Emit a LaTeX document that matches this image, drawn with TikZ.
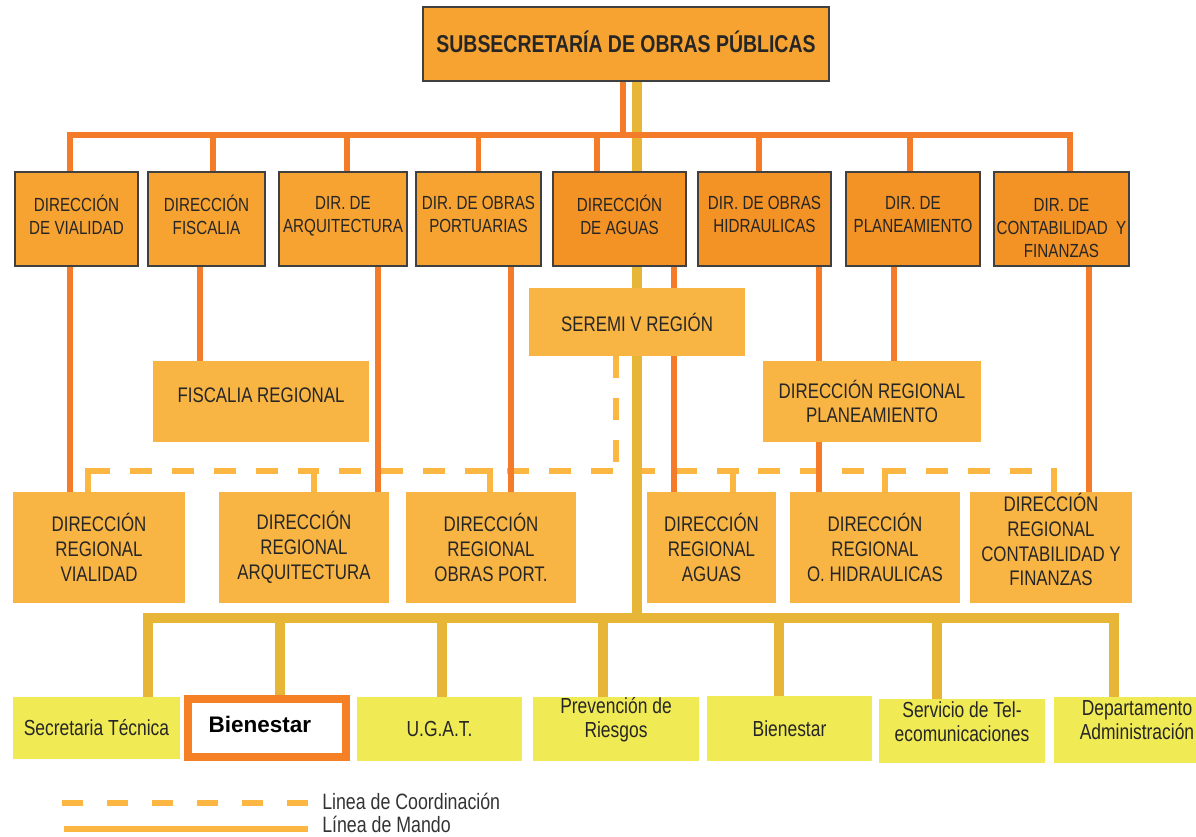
\documentclass[tikz,border=0pt]{standalone}
\usepackage{fontspec}
\setmainfont{Liberation Sans}[FakeStretch=0.8]
\newfontfamily\widesans{Liberation Sans}
\usepackage{tikz}
\usetikzlibrary{positioning,calc}

\definecolor{dirorange}{RGB}{247,163,50}
\definecolor{dirdark}{RGB}{243,146,37}
\definecolor{regorange}{RGB}{249,181,68}
\definecolor{unityellow}{RGB}{240,234,85}
\definecolor{mandoorange}{RGB}{244,123,42}
\definecolor{mandoyellow}{RGB}{232,182,55}
\definecolor{coordorange}{RGB}{251,183,65}
\definecolor{frameorange}{RGB}{245,128,37}

\newcommand{\px}{0.025cm}
\pgfdeclarelayer{bg}
\pgfsetlayers{bg,main}

\tikzset{
    size/.style 2 args={minimum width=#1*\px, minimum height=#2*\px},
    dirbox/.style={draw=black!75, line width=0.8pt, fill=dirorange, inner sep=0pt, align=center,
        text=black!85, text depth=6pt, font=\fontsize{13.5}{16.3}\selectfont},
    regbox/.style={fill=regorange, inner sep=0pt, align=center, text=black!85,
        font=\fontsize{15}{17.7}\selectfont},
    unitbox/.style={fill=unityellow, inner sep=0pt, align=center, text=black!85,
        font=\fontsize{15.5}{17}\selectfont},
    bienbox/.style={draw=frameorange, line width=5.7pt, fill=white, inner sep=0pt, text=black,
        font=\widesans\bfseries\fontsize{16}{19}\selectfont},
    orline/.style={draw=mandoorange, line width=3.9pt, line cap=rect},
    yline/.style={draw=mandoyellow, line width=6.8pt, line cap=rect},
    coline/.style={draw=coordorange, line width=4.6pt, dash pattern=on 15.6pt off 14.2pt},
    legtext/.style={inner sep=0pt, anchor=west, text=black!80, font=\fontsize{15.8}{18}\selectfont}
}

\begin{document}
\begin{tikzpicture}[x=0.025cm, y=-0.025cm]
    \useasboundingbox (0,0) rectangle (1196,836);
    \clip (0,0) rectangle (1196,836);

    \node[dirbox, size={406}{74}, text depth=3pt, font=\bfseries\fontsize{17.3}{20}\selectfont] (subse) at (626,44) {SUBSECRETARÍA DE OBRAS PÚBLICAS};

    \node[dirbox, size={123}{94}] (dvial) at (76.5,219) {DIRECCIÓN\\DE VIALIDAD};
    \node[dirbox, size={117}{94}] (dfisc) at (206.5,219) {DIRECCIÓN\\FISCALIA};
    \node[dirbox, size={128}{94}] (darq) at (343,219) {DIR. DE\\ARQUITECTURA};
    \node[dirbox, size={125}{94}] (dport) at (478.5,219) {DIR. DE OBRAS\\PORTUARIAS};
    \node[dirbox, fill=dirdark, size={133}{94}] (daguas) at (619.5,219) {DIRECCIÓN\\DE AGUAS};
    \node[dirbox, fill=dirdark, size={133}{94}] (dhidr) at (764.5,219) {DIR. DE OBRAS\\HIDRAULICAS};
    \node[dirbox, fill=dirdark, size={134}{94}] (dplan) at (913,219) {DIR. DE\\PLANEAMIENTO};
    \node[dirbox, fill=dirdark, size={135}{94}, text depth=0.5pt, text height=55pt] (dconta) at (1061.5,219) {DIR. DE\\CONTABILIDAD~~Y\\FINANZAS};

    \node[regbox, size={216}{68}] (seremi) at (637,322) {SEREMI V REGIÓN};
    \node[regbox, size={216}{81}, text depth=8.5pt] (fiscreg) at (261,401.5) {FISCALIA REGIONAL};
    \node[regbox, size={218}{81}] (rplan) at (872,401.5) {DIRECCIÓN REGIONAL\\PLANEAMIENTO};

    \node[regbox, size={172}{111}] (rvial) at (99,547.5) {DIRECCIÓN\\REGIONAL\\VIALIDAD};
    \node[regbox, size={170}{111}] (rarq) at (304,547.5) {DIRECCIÓN\\REGIONAL\\ARQUITECTURA};
    \node[regbox, size={170}{111}] (rport) at (491,547.5) {DIRECCIÓN\\REGIONAL\\OBRAS PORT.};
    \node[regbox, size={129}{111}] (raguas) at (711.5,547.5) {DIRECCIÓN\\REGIONAL\\AGUAS};
    \node[regbox, size={170}{111}] (rhidr) at (875,547.5) {DIRECCIÓN\\REGIONAL\\O. HIDRAULICAS};
    \node[regbox, size={162}{111}, text depth=11.5pt] (rconta) at (1051,547.5) {DIRECCIÓN\\REGIONAL\\CONTABILIDAD Y\\FINANZAS};

    \node[unitbox, size={167}{62}] (sectec) at (96.5,728) {Secretaria Técnica};
    \node[bienbox, size={158}{58}, text depth=5.5pt] (bienest) at (267,728) {\hbox{Bienestar\kern 10pt}};
    \node[unitbox, size={165}{64}] (ugat) at (439.5,729) {U.G.A.T.};
    \node[unitbox, size={166}{64}, text depth=17pt] (prev) at (616,729) {Prevención de\\Riesgos};
    \node[unitbox, size={165}{65}] (bienes2) at (789.5,728.5) {Bienestar};
    \node[unitbox, size={166}{64}, text depth=14pt] (servtel) at (962,731) {Servicio de Tel-\\ecomunicaciones};
    \node[unitbox, size={166}{66}, text depth=14pt] (deptadm) at (1137,730) {Departamento\\Administración};

    \coordinate (obus) at (0,135);
    \coordinate (cbus) at (0,471);
    \coordinate (ybus) at (0,618);

    \begin{pgfonlayer}{bg}
        % linea de coordinacion
        \draw[coline] ([xshift=-11*\px]rvial.north |- cbus) -- ([xshift=3*\px]rconta.north |- cbus);
        \foreach \n/\dx in {rvial/-11, rarq/10, rport/-1, raguas/21.5, rhidr/10, rconta/3}
            \draw[coline, solid, line cap=rect] ([xshift=\dx*\px]\n.north) -- ([xshift=\dx*\px]\n.north |- cbus);
        \draw[coline] ([xshift=-21*\px]seremi.south) -- ([xshift=-21*\px]seremi.south |- cbus);

        % linea de mando
        \draw[yline] ([xshift=11*\px]subse.south) -- ([xshift=11*\px]subse.south |- ybus);
        \draw[yline] ([xshift=51.5*\px]sectec.north |- ybus) -- ([xshift=-23*\px]deptadm.north |- ybus);
        \foreach \n/\dx in {sectec/51.5, bienest/13, ugat/2.5, prev/-13, bienes2/-10.5, servtel/-25, deptadm/-23}
            \draw[yline] ([xshift=\dx*\px]\n.north) -- ([xshift=\dx*\px]\n.north |- ybus);

        \draw[orline] ([xshift=-3*\px]subse.south) -- ([xshift=-3*\px]subse.south |- obus);
        \draw[orline] ([xshift=-6.5*\px]dvial.north |- obus) -- ([xshift=8.5*\px]dconta.north |- obus);
        \foreach \n/\dx in {dvial/-6.5, dfisc/6.5, darq/4, dport/0, daguas/-22.5, dhidr/-5.5, dplan/-3, dconta/8.5}
            \draw[orline] ([xshift=\dx*\px]\n.north) -- ([xshift=\dx*\px]\n.north |- obus);
        \foreach \a/\b/\dx in {dvial/rvial/-6.5, dfisc/fiscreg/-6.5, darq/rarq/35, dport/rport/32.5,
                daguas/raguas/54.5, dhidr/rhidr/54.5, dplan/rplan/-19, dconta/rconta/27.5}
            \draw[orline] ([xshift=\dx*\px]\a.south) -- ([xshift=\dx*\px]\a.south |- \b.north);
    \end{pgfonlayer}

    % leyenda
    \draw[coline, dash pattern=on 15pt off 17pt] (62,803) -- (308,803);
    \draw[coline, solid] (64,829) -- (308,829);
    \node[legtext] (lcoord) at (322,801) {Linea de Coordinación};
    \node[legtext] (lmando) at (322,824) {Línea de Mando};
\end{tikzpicture}
\end{document}
